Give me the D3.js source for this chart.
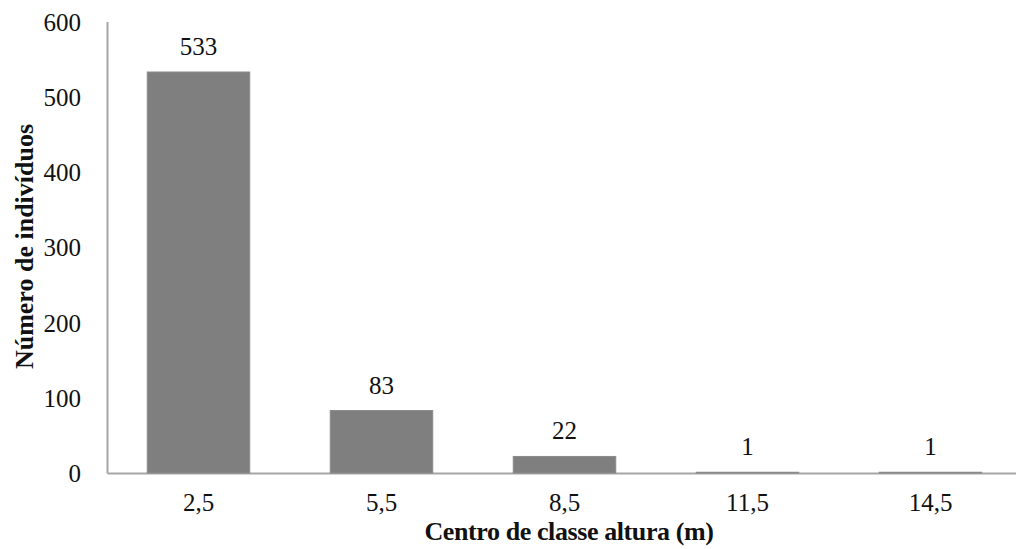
<!DOCTYPE html>
<html>
<head>
<meta charset="utf-8">
<script src="https://cdn.jsdelivr.net/npm/d3@7"></script>
<style>
  html, body { margin: 0; padding: 0; background: #fff; }
  svg { display: block; }
  text { font-family: "Liberation Serif", "Times New Roman", serif; fill: #111; }
</style>
</head>
<body>
<svg id="chart" width="1016" height="549"></svg>
<script>
// Height-class centres (m) and number of individuals in each class
const classes = ["2,5", "5,5", "8,5", "11,5", "14,5"];
const counts = [533, 83, 22, 1, 1];
const yTicks = [0, 100, 200, 300, 400, 500, 600];

const svg = d3.select("#chart");
const plotLeft = 107, plotRight = 1022, plotTop = 21.6, plotBottom = 473;
const labelSize = "25px";

const x = d3.scaleBand().domain(classes).range([plotLeft, plotRight]).paddingInner(0.44).paddingOuter(0.22);
const y = d3.scaleLinear().domain([0, 600]).range([plotBottom, plotTop]);

// Y axis
const yAxis = svg.append("g").attr("transform", `translate(${plotLeft},0)`)
  .call(d3.axisLeft(y).tickValues(yTicks).tickSize(0).tickPadding(26));
yAxis.select(".domain").attr("stroke", "#a6a6a6").attr("stroke-width", 2);
yAxis.selectAll("text").style("font-size", labelSize).attr("dy", "0.34em")
  .style("font-family", "Liberation Serif").attr("fill", "#111");

// X axis
const xAxis = svg.append("g").attr("transform", `translate(0,${plotBottom})`)
  .call(d3.axisBottom(x).tickSize(0).tickPadding(0));
xAxis.select(".domain").attr("stroke", "#a6a6a6").attr("stroke-width", 2);
xAxis.selectAll("text").style("font-size", labelSize).attr("y", 38).attr("dy", null)
  .style("font-family", "Liberation Serif").attr("fill", "#111");

// Bars (drawn over the baseline)
svg.append("g").selectAll("rect").data(classes).join("rect")
  .attr("x", d => x(d))
  .attr("width", x.bandwidth())
  .attr("y", (d, i) => y(counts[i]))
  .attr("height", (d, i) => y(0) - y(counts[i]))
  .attr("fill", "#7f7f7f")
  .attr("stroke", "#8a8a8a")
  .attr("stroke-width", 1);

// Value labels above bars
svg.append("g").selectAll("text").data(classes).join("text")
  .attr("x", d => x(d) + x.bandwidth() / 2)
  .attr("y", (d, i) => y(counts[i]) - 17)
  .attr("text-anchor", "middle")
  .style("font-size", labelSize)
  .text((d, i) => counts[i]);

// Axis titles
svg.append("text")
  .attr("x", 569)
  .attr("y", 540)
  .attr("text-anchor", "middle")
  .style("font-size", "26px")
  .style("font-weight", "bold")
  .style("letter-spacing", "-0.4px")
  .text("Centro de classe altura (m)");

svg.append("text")
  .attr("transform", `translate(33,246.5) rotate(-90)`)
  .attr("text-anchor", "middle")
  .style("font-size", "26px")
  .style("font-weight", "bold")
  .text("Número de indivíduos");
</script>
</body>
</html>
